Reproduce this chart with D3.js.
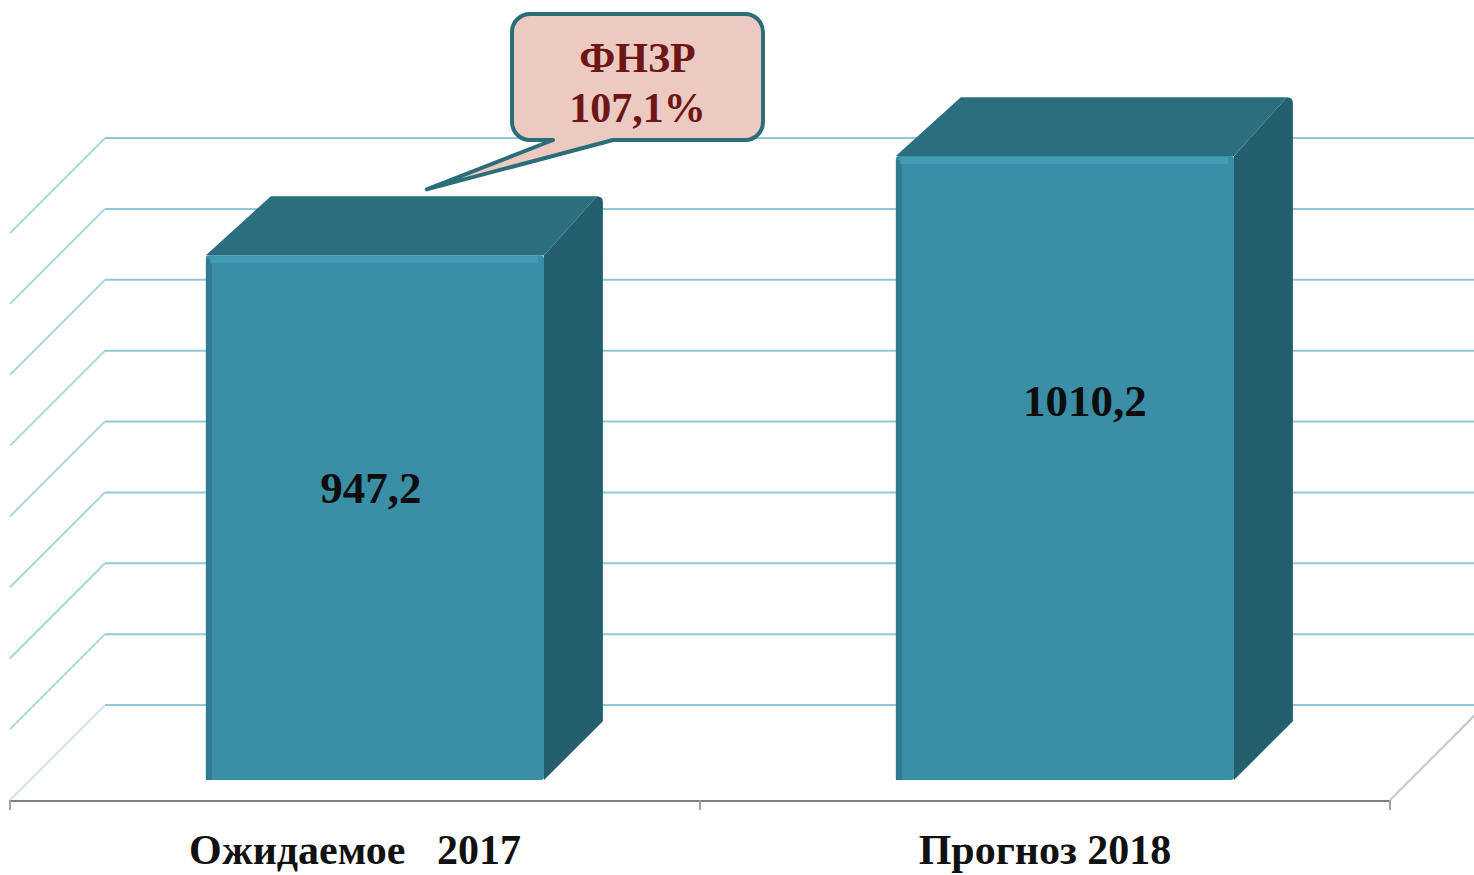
<!DOCTYPE html>
<html>
<head>
<meta charset="utf-8">
<script src="https://cdn.jsdelivr.net/npm/d3@7"></script>
<style>
  html, body { margin: 0; padding: 0; background: #fff; }
  svg { display: block; }
  text { font-family: "Liberation Serif", "Times New Roman", serif; font-weight: bold; }
</style>
</head>
<body>
<svg id="chart"></svg>
<script>
const categories = ['Ожидаемое   2017', 'Прогноз 2018']
const values = [947.2, 1010.2]
const valueLabels = ['947,2', '1010,2']
const calloutLines = ['ФНЗР', '107,1%']
// gridline values on the walls (no tick labels shown)
const gridValues = [614, 659, 704, 749, 794, 839, 884, 929, 974]

const WIDTH = 1474
const HEIGHT = 875
const DEPTH = 95            // floor depth, pixels along the 45deg diagonal
const BAR_FRONT = 0.21      // bar front face, fraction of depth
const BAR_BACK = 0.83
const BAR_WIDTH = 0.49      // fraction of band

// value labels are not centred the same way on both bars
const LABEL_SHIFT = [{ dx: -4, dy: 248 }, { dx: 20, dy: 260 }]

const colors = {
  front: '#3a8ea5',
  frontEdge: '#2f7c91',
  highlight: '#46a2ba',
  top: '#2b6e7e',
  side: '#245f6d',
  grid: '#8fc8d9',
  sideGrid: '#a9d7d6',
  floor: '#c4c4c4',
  axis: '#808080',
  calloutFill: '#ecc9c1',
  calloutStroke: '#2c6d7a',
  calloutText: '#6c1616'
}

const svg = d3.select('#chart')
  .attr('width', WIDTH)
  .attr('height', HEIGHT)

const x = d3.scaleBand()
  .domain(categories)
  .range([10, 1390])

// y at depth 0 (front edge of the floor)
const y = d3.scaleLinear()
  .domain([614, 974])
  .range([800, 233])

// project (screen x at depth 0, value, depth fraction) to the page
const px = (xx, d) => xx + DEPTH * d
const py = (v, d) => y(v) - DEPTH * d

const yMin = y.domain()[0]

// back wall gridlines
svg.append('g')
  .selectAll('line')
  .data(gridValues)
  .join('line')
    .attr('x1', px(x.range()[0], 1))
    .attr('x2', px(x.range()[1], 1))
    .attr('y1', d => py(d, 1))
    .attr('y2', d => py(d, 1))
    .attr('stroke', colors.grid)
    .attr('stroke-width', 2)

// side wall gridlines
svg.append('g')
  .selectAll('line')
  .data(gridValues)
  .join('line')
    .attr('x1', px(x.range()[0], 0))
    .attr('x2', px(x.range()[0], 1))
    .attr('y1', d => py(d, 0))
    .attr('y2', d => py(d, 1))
    .attr('stroke', (d, i) => i === 0 ? '#cfe3e3' : colors.sideGrid)
    .attr('stroke-width', 2)

// floor right edge
svg.append('line')
  .attr('x1', px(x.range()[1], 0))
  .attr('y1', py(yMin, 0))
  .attr('x2', px(x.range()[1], 1))
  .attr('y2', py(yMin, 1))
  .attr('stroke', colors.floor)
  .attr('stroke-width', 2)

// front axis + category ticks
const axis = svg.append('g')
axis.append('line')
  .attr('x1', x.range()[0])
  .attr('x2', x.range()[1])
  .attr('y1', y(yMin) + 1)
  .attr('y2', y(yMin) + 1)
  .attr('stroke', colors.axis)
  .attr('stroke-width', 2)
axis.selectAll('.tick')
  .data([x.range()[0], ...categories.slice(1).map(c => x(c)), x.range()[1]])
  .join('line')
    .attr('class', 'tick')
    .attr('x1', d => d)
    .attr('x2', d => d)
    .attr('y1', y(yMin))
    .attr('y2', y(yMin) + 10)
    .attr('stroke', '#a0a0a0')
    .attr('stroke-width', 2)

axis.selectAll('.cat-label')
  .data(categories)
  .join('text')
    .attr('class', 'cat-label')
    .attr('x', d => x(d) + x.bandwidth() / 2)
    .attr('y', 864)
    .attr('text-anchor', 'middle')
    .attr('font-size', 42)
    .attr('fill', '#111')
    .style('white-space', 'pre')
    .text(d => d)

// bars
const bw = x.bandwidth() * BAR_WIDTH
const barData = categories.map((c, i) => ({ cat: c, value: values[i], label: valueLabels[i], i }))

const bars = svg.append('g')
  .selectAll('g')
  .data(barData)
  .join('g')

const left = d => x(d.cat) + (x.bandwidth() - bw) / 2

// right side face
bars.append('path')
  .attr('fill', colors.side)
  .attr('d', d => {
    const x0 = left(d) + bw
    return `M${px(x0, BAR_FRONT)},${py(yMin, BAR_FRONT)}` +
      `L${px(x0, BAR_BACK)},${py(yMin, BAR_BACK)}` +
      `L${px(x0, BAR_BACK)},${py(d.value, BAR_BACK) + 6}` +
      `Q${px(x0, BAR_BACK)},${py(d.value, BAR_BACK)} ${px(x0, BAR_BACK) - 6},${py(d.value, BAR_BACK)}` +
      `L${px(x0, BAR_FRONT)},${py(d.value, BAR_FRONT)}Z`
  })

// top face
bars.append('path')
  .attr('fill', colors.top)
  .attr('d', d => {
    const x0 = left(d), x1 = left(d) + bw
    return `M${px(x0, BAR_FRONT)},${py(d.value, BAR_FRONT)}` +
      `L${px(x0, BAR_BACK) + 6},${py(d.value, BAR_BACK)}` +
      `L${px(x1, BAR_BACK) - 6},${py(d.value, BAR_BACK)}` +
      `L${px(x1, BAR_FRONT)},${py(d.value, BAR_FRONT)}Z`
  })

// front face
bars.append('rect')
  .attr('x', d => px(left(d), BAR_FRONT))
  .attr('y', d => py(d.value, BAR_FRONT))
  .attr('width', bw)
  .attr('height', d => py(yMin, BAR_FRONT) - py(d.value, BAR_FRONT))
  .attr('rx', 3)
  .attr('fill', colors.front)

// darker left bevel and soft highlight along the top edge
bars.append('rect')
  .attr('x', d => px(left(d), BAR_FRONT))
  .attr('y', d => py(d.value, BAR_FRONT) + 4)
  .attr('width', 6)
  .attr('height', d => py(yMin, BAR_FRONT) - py(d.value, BAR_FRONT) - 4)
  .attr('fill', colors.frontEdge)
bars.append('rect')
  .attr('x', d => px(left(d), BAR_FRONT) + 4)
  .attr('y', d => py(d.value, BAR_FRONT) + 1)
  .attr('width', bw - 10)
  .attr('height', 7)
  .attr('fill', colors.highlight)
  .attr('opacity', 0.7)

bars.append('text')
  .attr('x', d => px(left(d), BAR_FRONT) + bw / 2 + LABEL_SHIFT[d.i].dx)
  .attr('y', d => py(d.value, BAR_FRONT) + LABEL_SHIFT[d.i].dy)
  .attr('text-anchor', 'middle')
  .attr('font-size', 45)
  .attr('fill', '#0d0d0d')
  .text(d => d.label)

// callout pointing at the first bar
const first = barData[0]
const tipX = px(left(first), BAR_BACK) + 162
const tipY = py(first.value, BAR_BACK) - 7
const box = { x0: 512, y0: 14, x1: 763, y1: 140, r: 18 }
const callout = svg.append('g')

callout.append('path')
  .attr('fill', colors.calloutFill)
  .attr('stroke', colors.calloutStroke)
  .attr('stroke-width', 4)
  .attr('stroke-linejoin', 'round')
  .attr('d', () => {
    const { x0, y0, x1, y1, r } = box
    return `M${x0 + r},${y0}H${x1 - r}A${r},${r} 0 0 1 ${x1},${y0 + r}` +
      `V${y1 - r}A${r},${r} 0 0 1 ${x1 - r},${y1}` +
      `H613L${tipX},${tipY}L553,${y1}` +
      `H${x0 + r}A${r},${r} 0 0 1 ${x0},${y1 - r}` +
      `V${y0 + r}A${r},${r} 0 0 1 ${x0 + r},${y0}Z`
  })

callout.selectAll('text')
  .data(calloutLines)
  .join('text')
    .attr('x', (box.x0 + box.x1) / 2)
    .attr('y', (d, i) => 72 + i * 50)
    .attr('text-anchor', 'middle')
    .attr('font-size', 42)
    .attr('fill', colors.calloutText)
    .text(d => d)
</script>
</body>
</html>
